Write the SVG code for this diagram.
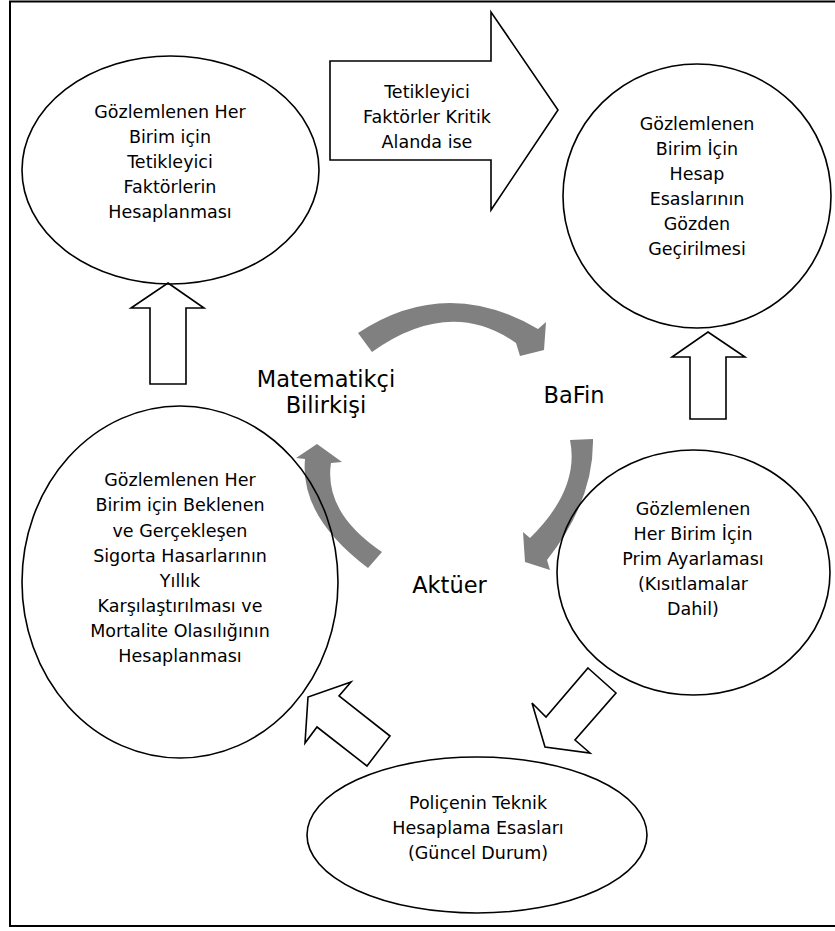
<svg xmlns="http://www.w3.org/2000/svg" width="835" height="931" viewBox="0 0 835 931">
<style>
  .shape { fill: none; stroke: #000; stroke-width: 1.6; }
  .block { fill: #fff; stroke: #000; stroke-width: 1.6; stroke-linejoin: miter; }
  .curve { fill: #808080; stroke: none; }
  .t { font-family: Verdana, "DejaVu Sans", sans-serif; font-size: 17.5px; fill: #000; text-anchor: middle; }
  .big { font-family: Verdana, "DejaVu Sans", sans-serif; font-size: 22.5px; fill: #000; text-anchor: middle; }
</style>
<rect x="0" y="0" width="835" height="931" fill="#fff"/>
<rect id="frame" x="10" y="1.5" width="840" height="924.5" fill="none" stroke="#000" stroke-width="2"/>

<g id="connectors">
  <!-- top block arrow with label -->
  <g id="arrow-trigger">
    <polygon class="block" points="330,61 491,61 491,12 558,110 491,210 491,160 330,160"/>
    <text class="t" x="427" y="98">Tetikleyici</text>
    <text class="t" x="427" y="123">Faktörler Kritik</text>
    <text class="t" x="427" y="148">Alanda ise</text>
  </g>
  <polygon id="arrow-up-left" class="block" points="168,283 204,308 186,308 186,384 150,384 150,308 131,308"/>
  <polygon id="arrow-up-right" class="block" points="708,332 745,357 726,357 726,419 690,419 690,357 672,357"/>
  <polygon id="arrow-down-left" class="block" points="588,668 616,693 575,740 590,753 545,747 532,703 546,717"/>
  <polygon id="arrow-up-left-bottom" class="block" points="367,766 390,736 339,696 351,682 308,697 305,743 317,727"/>
  <!-- gray curved cycle arrows -->
  <path id="curve-top" class="curve" d="M358,333 Q446,275 538,329 L546,322 L544,350 L520,356 L516,343 Q450,296.5 372,352 Z"/>
  <path id="curve-right" class="curve" d="M593,439 Q594,500.5 547,560 L550,570 L525,562 L523,532 L530,538 Q580,489 570,440 Z"/>
  <path id="curve-left" class="curve" d="M382,552 Q323.5,512.5 331,463 L342,462 L317,444 L296,458 L305,459 Q299.5,516.5 368,568 Z"/>
</g>

<g id="node-trigger-calc">
  <ellipse class="shape" cx="170.5" cy="170" rx="148.5" ry="114"/>
  <text class="t" x="170" y="118">Gözlemlenen Her</text>
  <text class="t" x="170" y="143">Birim için</text>
  <text class="t" x="170" y="168">Tetikleyici</text>
  <text class="t" x="170" y="193">Faktörlerin</text>
  <text class="t" x="170" y="218">Hesaplanması</text>
</g>

<g id="node-review">
  <ellipse class="shape" cx="697" cy="196" rx="134" ry="132"/>
  <text class="t" x="697" y="130">Gözlemlenen</text>
  <text class="t" x="697" y="155">Birim İçin</text>
  <text class="t" x="697" y="180">Hesap</text>
  <text class="t" x="697" y="205">Esaslarının</text>
  <text class="t" x="697" y="230">Gözden</text>
  <text class="t" x="697" y="255">Geçirilmesi</text>
</g>

<g id="node-comparison">
  <ellipse class="shape" cx="180" cy="582" rx="158" ry="176"/>
  <text class="t" x="180" y="486">Gözlemlenen Her</text>
  <text class="t" x="180" y="511">Birim için Beklenen</text>
  <text class="t" x="180" y="536.5">ve Gerçekleşen</text>
  <text class="t" x="180" y="561.5">Sigorta Hasarlarının</text>
  <text class="t" x="180" y="587">Yıllık</text>
  <text class="t" x="180" y="612">Karşılaştırılması ve</text>
  <text class="t" x="180" y="637">Mortalite Olasılığının</text>
  <text class="t" x="180" y="662">Hesaplanması</text>
</g>

<g id="node-premium">
  <ellipse class="shape" cx="693.5" cy="572.5" rx="136.5" ry="122.5"/>
  <text class="t" x="693" y="515">Gözlemlenen</text>
  <text class="t" x="693" y="540">Her Birim İçin</text>
  <text class="t" x="693" y="565">Prim Ayarlaması</text>
  <text class="t" x="693" y="590">(Kısıtlamalar</text>
  <text class="t" x="693" y="615">Dahil)</text>
</g>

<g id="node-policy">
  <ellipse class="shape" cx="477" cy="835" rx="170" ry="78"/>
  <text class="t" x="478" y="809">Poliçenin Teknik</text>
  <text class="t" x="478" y="834">Hesaplama Esasları</text>
  <text class="t" x="478" y="859">(Güncel Durum)</text>
</g>

<g id="label-matematikci">
  <text class="big" x="326" y="387">Matematikçi</text>
  <text class="big" x="326" y="413">Bilirkişi</text>
</g>
<g id="label-bafin">
  <text class="big" x="574" y="403">BaFin</text>
</g>
<g id="label-aktuer">
  <text class="big" x="449.5" y="593">Aktüer</text>
</g>
</svg>
